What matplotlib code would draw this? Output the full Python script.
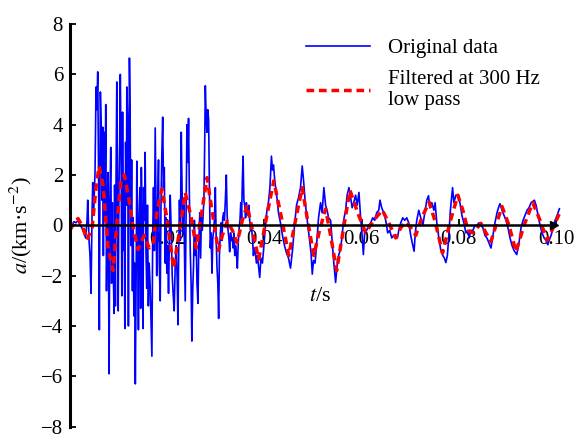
import matplotlib
matplotlib.use("Agg")
import matplotlib.pyplot as plt
import numpy as np

plt.rcParams['font.family'] = ['Liberation Serif', 'DejaVu Serif']
plt.rcParams['mathtext.fontset'] = 'stix'

# original signal: time (ms), acceleration (km/s^2)
blue_ms = [0.00, 0.41, 0.82, 1.24, 1.65, 2.06, 2.47, 2.89, 3.20, 3.51, 3.65, 3.92, 4.12, 4.33, 4.54, 4.68, 4.85,
           5.15, 5.36, 5.51, 5.71, 5.88, 6.04, 6.25, 6.43, 6.60, 6.74, 6.87, 7.01, 7.15, 7.36, 7.51, 7.67, 7.84,
           8.04, 8.21, 8.39, 8.56, 8.72, 8.87, 9.07, 9.18, 9.34, 9.48, 9.63, 9.77, 9.92, 10.06, 10.21, 10.35,
           10.52, 10.66, 10.82, 10.97, 11.13, 11.28, 11.44, 11.61, 11.69, 11.86, 12.02, 12.23, 12.37, 12.52,
           12.68, 12.85, 12.99, 13.15, 13.30, 13.44, 13.61, 13.75, 13.92, 14.08, 14.23, 14.37, 14.54, 14.68,
           14.85, 15.01, 15.15, 15.32, 15.46, 15.63, 15.79, 15.94, 16.12, 16.29, 16.49, 16.70, 16.85, 17.01,
           17.18, 17.36, 17.53, 17.69, 17.84, 18.00, 18.21, 18.37, 18.56, 18.72, 18.89, 19.07, 19.24, 19.40,
           19.59, 19.75, 19.92, 20.10, 20.27, 20.45, 20.62, 20.82, 21.03, 21.24, 21.44, 21.65, 21.86, 22.06,
           22.21, 22.37, 22.52, 22.70, 22.89, 23.05, 23.22, 23.40, 23.57, 23.71, 23.88, 24.06, 24.23, 24.39,
           24.56, 24.74, 24.91, 25.07, 25.26, 25.42, 25.59, 25.77, 25.94, 26.12, 26.33, 26.49, 26.70, 26.87,
           27.05, 27.22, 27.38, 27.55, 27.71, 27.84, 28.00, 28.17, 28.33, 28.52, 28.68, 28.87, 29.03, 29.22,
           29.38, 29.57, 29.73, 29.90, 30.08, 30.25, 30.41, 30.58, 30.74, 30.93, 31.09, 31.26, 31.42, 31.61,
           31.77, 31.96, 32.16, 32.33, 32.52, 32.68, 32.85, 33.03, 33.20, 33.38, 33.55, 33.71, 33.90, 34.06,
           34.23, 34.43, 34.64, 34.80, 34.97, 35.13, 35.30, 35.46, 35.61, 35.77, 35.94, 36.12, 36.29, 36.45,
           36.62, 36.80, 36.97, 37.15, 37.32, 37.53, 37.73, 37.94, 38.14, 38.35, 38.56, 38.82, 39.03, 39.28,
           39.59, 39.90, 40.21, 40.52, 40.82, 41.13, 41.44, 41.65, 41.86, 42.16, 42.47, 42.89, 43.30, 43.71,
           44.12, 44.54, 44.95, 45.36, 45.77, 46.19, 46.60, 47.01, 47.42, 47.77, 48.04, 48.45, 48.87, 49.28,
           49.59, 49.84, 50.10, 50.41, 50.72, 51.13, 51.55, 51.86, 52.23, 52.58, 52.89, 53.20, 53.61, 53.92,
           54.23, 54.64, 54.95, 55.26, 55.57, 55.88, 56.29, 56.70, 57.01, 57.38, 57.73, 58.04, 58.35, 58.76,
           59.07, 59.44, 59.79, 60.10, 60.35, 60.62, 61.03, 61.44, 61.86, 62.27, 62.68, 63.09, 63.51, 63.77,
           64.12, 64.54, 64.95, 65.36, 65.77, 66.19, 66.60, 67.01, 67.36, 67.63, 68.04, 68.45, 68.87, 69.28,
           69.69, 70.10, 70.41, 70.79, 71.03, 71.34, 71.75, 72.16, 72.58, 72.99, 73.40, 73.75, 74.02, 74.43,
           74.85, 75.11, 75.46, 75.88, 76.29, 76.70, 77.01, 77.32, 77.63, 77.94, 78.25, 78.70, 78.97, 79.38,
           79.79, 80.21, 80.62, 81.03, 81.44, 81.86, 82.12, 82.47, 82.89, 83.30, 83.71, 84.12, 84.54, 84.95,
           85.36, 85.77, 86.19, 86.60, 87.01, 87.42, 87.84, 88.14, 88.45, 88.87, 89.28, 89.69, 90.10, 90.52,
           90.93, 91.34, 91.90, 92.37, 92.78, 93.20, 93.61, 94.02, 94.43, 94.85, 95.53, 95.88, 96.29, 96.70,
           97.11, 97.53, 97.94, 98.29, 98.56, 98.97, 99.38, 99.79, 100.21, 100.68]
blue_a = [-0.2, 0.0, 0.15, 0.1, 0.2, 0.0, -0.1, -0.3, -0.5, 0.2, 1.0, -0.6, -1.2, -2.7, 0.5, 1.7, 0.4,
          2.1, 5.5, 4.6, 6.1, 2.0, -4.15, 5.3, 3.9, 1.0, 3.9, -1.2, 3.7, 0.2, 4.8, -2.6, 0.5, 2.1,
          -5.9, 1.0, 3.1, -2.3, 0.9, -1.5, -3.5, 1.6, -3.2, 2.0, 5.7, 1.0, -3.4, 1.2, 3.2, 6.0,
          2.8, -2.8, 4.5, -1.0, 1.8, -4.1, 3.3, 0.8, 5.5, 4.2, -4.0, 6.65, 4.6, -0.8,
          2.6, -2.6, 0.3, -3.6, -1.5, -6.3, -2.0, 2.55, -0.5, -4.15, 0.5, 1.5, -3.3, 2.3,
          -0.2, -4.1, 1.5, 0.2, 2.9, -1.0, -2.5, 0.8, -3.2, -1.5, -2.4, -4.0, -5.2, -0.5,
          1.5, -1.0, 3.87, 1.0, -2.0, 0.5, 2.6, -1.5, -3.0, 0.8, 2.8, 4.3, 1.5, 2.3,
          -1.5, 0.3, -1.9, -0.8, -2.7, -0.5, 1.2, -0.2, -2.0, -2.8, -3.4, -1.5, -0.8, -2.2,
          -3.95, -1.0, 1.0, -0.6, 3.7, 1.5, -0.3, 0.8, -1.2, -3.0, 0.5, 4.0, 2.5, 4.25,
          1.2, -1.0, -2.3, -4.6, -2.5, -1.6, 0.2, -1.2, -0.4, -2.3, -3.1, -0.8, 0.5, -1.3,
          0.5, -0.2, 0.4, 1.0, 3.2, 5.55, 4.4, 3.7, 4.6, 4.2, 1.5, -0.9, -0.3, -1.9,
          -0.5, -0.2, 0.3, 1.5, -0.6, -1.7, -2.3, -3.7, -1.2, -0.3, 0.1, -0.6, 0.3, 0.5,
          0.2, 1.0, 2.0, 0.4, -0.2, -0.5, -1.05, -0.3, -0.6, -0.5, -0.9, -0.3, -1.2, -0.8,
          -1.1, -1.7, -0.6, -0.1, 0.2, 0.9, 0.3, 1.8, 2.75, 1.0, 0.8, 0.3, 0.9, 0.5,
          0.4, 0.8, 0.2, -0.2, 0.0, -0.5, -1.2, -0.9, -1.1, -1.5, -1.2, -1.7, -2.07, -1.3,
          -1.5, -0.8, 0.0, 0.6, 0.9, 1.5, 2.75, 2.2, 2.4, 1.7, 1.3, 0.5, 0.1, -0.4,
          -0.8, -1.1, -1.3, -1.7, -1.0, 0.0, 0.8, 1.1, 1.5, 2.36, 1.8, 0.8, 0.1, -0.6,
          -1.1, -1.94, -1.4, -1.5, -0.8, 0.3, 0.9, 0.5, 1.5, 0.8, 0.6, 0.3, 0.2, -0.6,
          -1.4, -2.27, -1.6, -1.2, -1.0, -0.6, 0.2, 0.6, 1.2, 1.5, 1.1, 0.7, 0.9, 1.2,
          0.8, 1.31, 0.3, -0.4, -1.16, -0.3, -0.2, 0.0, 0.1, 0.3, 0.2, 0.5, 0.6, 1.0,
          0.7, 0.5, 0.2, -0.3, -0.2, -0.5, -0.4, -0.4, -0.5, -0.2, 0.1, 0.3, 0.2, 0.3,
          0.1, -0.4, -0.7, -1.03, -0.3, 0.2, 0.6, 0.3, 0.0, 0.5, 1.0, 1.18, 0.7, 0.9,
          0.6, 0.9, 0.1, -0.5, -1.0, -1.2, -1.3, -1.48, -1.2, -0.4, 0.6, 1.5, 0.9, 1.2,
          1.2, 0.9, 0.4, 0.1, -0.3, -0.2, -0.5, -0.2, -0.2, 0.0, 0.0, 0.1, 0.0, -0.1,
          -0.4, -0.5, -0.7, -0.9, -0.4, 0.1, 0.5, 0.7, 0.86, 0.6, 0.4, 0.2, -0.1, -0.5,
          -0.8, -1.0, -1.16, -0.7, -0.1, 0.2, 0.4, 0.6, 0.7, 0.9, 1.0, 0.8, 0.4, 0.0,
          -0.3, -0.5, -0.6, -0.77, -0.6, -0.4, -0.1, 0.2, 0.4, 0.66]

# filtered signal (300 Hz low pass)
red_ms = [0.0, 0.82, 1.65, 2.47, 3.51, 4.54, 5.36, 5.98, 6.80, 7.84, 8.87, 9.69, 10.52, 11.20, 12.16,
          12.99, 14.02, 15.26, 16.29, 17.11, 17.94, 18.91, 20.0, 21.30, 22.47, 23.71, 24.95, 25.98,
          27.01, 28.19, 29.28, 30.52, 31.34, 32.37, 33.40, 34.37, 35.46, 36.43, 37.53, 38.82, 40.41,
          41.92, 43.51, 45.01, 46.39, 47.77, 48.87, 50.16, 51.34, 52.58, 53.61, 54.85, 56.29, 57.59,
          59.18, 60.82, 62.47, 64.27, 65.57, 67.01, 68.04, 69.07, 70.10, 71.13, 72.37, 73.88, 75.05,
          76.64, 78.14, 79.79, 80.82, 81.86, 82.89, 84.54, 85.57, 86.60, 87.63, 88.87, 90.31, 91.75,
          93.40, 95.20, 96.70, 98.14, 99.38, 100.62]
red_a = [-0.2, 0.1, 0.27, 0.0, -0.57, -0.1, 1.5, 2.35, 1.6, -0.9, -1.8, 0.2, 1.8, 2.0, 1.0,
         -0.1, -0.96, -0.4, -0.9, -0.7, 0.6, 1.45, 0.2, -1.7, -0.3, 1.3, 0.3, -0.9,
         0.4, 1.9, 0.5, -1.0, -0.4, 0.17, -0.2, -0.7, 0.2, 0.8, -0.2, -1.35, 0.3,
         1.77, 0.3, -1.2, 0.2, 1.5, 0.2, -1.2, -0.2, 0.65, -0.4, -1.8, -0.1, 1.4,
         0.5, -0.3, 0.2, 0.6, 0.1, -0.5, -0.1, 0.14, -0.1, -0.4, 0.3, 0.93, 0.2,
         -1.1, 0.1, 1.2, 0.6, -0.2, -0.3, 0.08, -0.3, -0.64, 0.0, 0.75, 0.0, -1.05,
         0.0, 0.9, 0.2, -0.6, -0.1, 0.45]

blue_t = np.array(blue_ms) / 1000
red_t = np.array(red_ms) / 1000

fig = plt.figure(figsize=(5.76, 4.38), dpi=100)
ax = fig.add_axes([0.1215, 0.026, 0.8524, 0.919])

ax.plot(blue_t, blue_a, color='#0000ff', lw=1.2, label='Original data')
ax.plot(red_t, red_a, color='#ff0000', lw=2.5, ls=(0, (2.2, 1.4)), label='Filtered at 300 Hz\nlow pass')

ax.set_xlim(0, 0.101)
ax.set_ylim(-8, 8)
ax.spines['top'].set_visible(False)
ax.spines['right'].set_visible(False)
ax.spines['bottom'].set_position(('data', 0))
ax.spines['bottom'].set_linewidth(1.8)
ax.spines['bottom'].set_bounds(0, 0.0995)
ax.spines['left'].set_linewidth(2.2)
ax.plot(0.0995, 0, marker='>', color='k', ms=6, clip_on=False)

ax.set_xticks([0.02, 0.04, 0.06, 0.08, 0.10])
ax.set_xticklabels(['0.02', '0.04', '0.06', '0.08', '0.10'])
ax.set_yticks(np.arange(-8, 9, 2))
ax.set_yticklabels(['\u22128', '\u22126', '\u22124', '\u22122', '0', '2', '4', '6', '8'])
ax.tick_params(axis='both', direction='in', labelsize=15, width=1.3, length=4)
ax.tick_params(axis='y', pad=5)
ax.tick_params(axis='x', pad=3)

ax.set_ylabel('$a$/(km\u00b7s$^{-2}$)', fontsize=16)
ax.yaxis.set_label_coords(-0.073, 0.5)
ax.set_xlabel('$t$/s', fontsize=16)
ax.xaxis.set_label_coords(0.509, 0.347)

ax.legend(loc='upper left', bbox_to_anchor=(0.498, 0.955), bbox_transform=fig.transFigure,
          frameon=False, fontsize=15, handlelength=3.1, handletextpad=0.85, labelspacing=0.55)

fig.savefig('out.png', dpi=100)
